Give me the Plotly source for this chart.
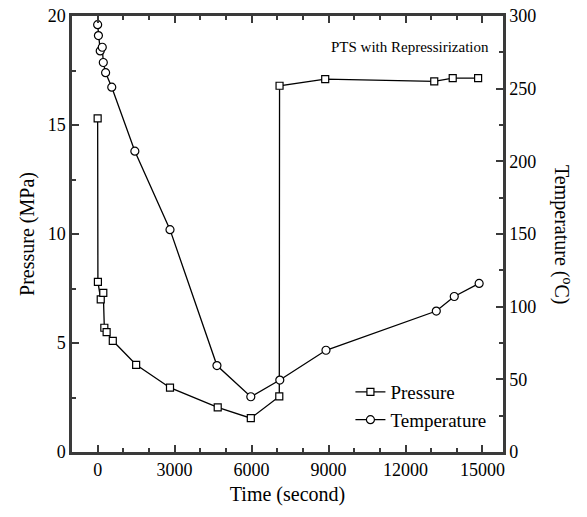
import plotly.graph_objects as go

# Data
p_time = [0, 10, 120, 220, 260, 350, 590, 1500, 2820, 4680, 5970, 7080, 7090, 8870, 13120, 13840, 14830]
p_val = [15.3, 7.8, 7.0, 7.3, 5.7, 5.5, 5.1, 4.0, 2.95, 2.05, 1.55, 2.55, 16.8, 17.1, 17.0, 17.15, 17.15]

t_time = [0, 30, 100, 180, 220, 310, 550, 1450, 2820, 4650, 5970, 7100, 8900, 13200, 13900, 14870]
t_val = [294, 286.5, 276, 278.5, 268, 261, 251, 207, 153, 59.5, 38, 49.5, 70, 97, 107, 116]

x_ticks = [0, 3000, 6000, 9000, 12000, 15000]
p_ticks = [0, 5, 10, 15, 20]
t_ticks = [0, 50, 100, 150, 200, 250, 300]

FONT = "Liberation Serif"
INK = "#3a3a3a"

fig = go.Figure()
fig.add_trace(go.Scatter(
    x=p_time, y=p_val, name="Pressure", mode="lines+markers",
    line=dict(color="black", width=1.3),
    marker=dict(symbol="square", size=7, color="white", line=dict(color="black", width=1.2)),
    yaxis="y",
))
fig.add_trace(go.Scatter(
    x=t_time, y=t_val, name="Temperature", mode="lines+markers",
    line=dict(color="black", width=1.3),
    marker=dict(symbol="circle", size=8, color="white", line=dict(color="black", width=1.2)),
    yaxis="y2",
))

axis_common = dict(
    showline=True, linecolor=INK, linewidth=2.5, showgrid=False, zeroline=False,
    ticks="inside", ticklen=7, tickwidth=2, tickcolor=INK, automargin=False,
    ticklabeloverflow="allow",
    tickfont=dict(family=FONT, size=18, color="black"),
)

fig.update_layout(
    width=579, height=509,
    margin=dict(l=64, r=84, t=8, b=65, autoexpand=False),
    paper_bgcolor="white", plot_bgcolor="white",
    font=dict(family=FONT, color="black"),
    showlegend=True,
    legend=dict(x=0.646, y=0.181, xanchor="left", yanchor="top",
                font=dict(family=FONT, size=19, color="black"),
                bgcolor="rgba(0,0,0,0)", tracegroupgap=0, itemwidth=30),
    xaxis=dict(
        range=[-1000, 15800], tickvals=x_ticks, ticktext=[str(v) for v in x_ticks], mirror="ticks",
        minor=dict(dtick=1000, tick0=0, ticks="inside", ticklen=4, tickwidth=2, tickcolor=INK),
        title=dict(text="Time (second)", font=dict(family=FONT, size=20, color="black"), standoff=8),
        **axis_common,
    ),
    yaxis=dict(
        range=[0, 20], tickvals=p_ticks, ticktext=[str(v) for v in p_ticks],
        minor=dict(dtick=2.5, tick0=0, ticks="inside", ticklen=4, tickwidth=2, tickcolor=INK),
        title=dict(text="Pressure (MPa)", font=dict(family=FONT, size=20, color="black"), standoff=8),
        **axis_common,
    ),
    yaxis2=dict(
        range=[0, 300], tickvals=t_ticks, ticktext=[str(v) for v in t_ticks],
        overlaying="y", side="right",
        minor=dict(dtick=25, tick0=0, ticks="inside", ticklen=4, tickwidth=2, tickcolor=INK),
        **axis_common,
    ),
    annotations=[
        dict(text="PTS with Repressirization", xref="paper", yref="paper",
             x=0.785, y=0.93, xanchor="center", yanchor="middle", showarrow=False,
             font=dict(family=FONT, size=15, color="black")),
        dict(text="Temperature (<sup>o</sup>C)", xref="paper", yref="paper",
             x=1.0, xshift=60, y=0.5, xanchor="center", yanchor="middle",
             textangle=90, showarrow=False,
             font=dict(family=FONT, size=20, color="black")),
    ],
)

fig.write_html("out.html")
